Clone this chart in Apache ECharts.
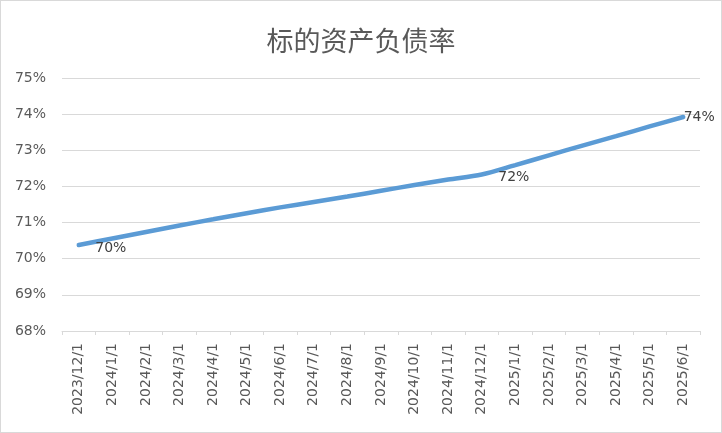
<!DOCTYPE html>
<html><head><meta charset="utf-8">
<script src="https://cdn.jsdelivr.net/npm/echarts@6/dist/echarts.min.js"></script>
<style>
html,body{margin:0;padding:0;background:#fff;}
#c{width:722px;height:433px;box-sizing:border-box;border:1px solid #d9d9d9;}
</style></head>
<body><div id="c"></div>
<script>
const categories = ['2023/12/1','2024/1/1','2024/2/1','2024/3/1','2024/4/1','2024/5/1','2024/6/1','2024/7/1','2024/8/1','2024/9/1','2024/10/1','2024/11/1','2024/12/1','2025/1/1','2025/2/1','2025/3/1','2025/4/1','2025/5/1','2025/6/1'];
const debtRatio = [70.38,70.56,70.74,70.92,71.09,71.26,71.42,71.57,71.72,71.88,72.04,72.19,72.33,72.59,72.86,73.13,73.39,73.66,73.92];
const labelledIdx = [0,12,18];
const labelOffsets = {0:[14,3], 12:[14,3], 18:[-2,0]};

const chart = echarts.init(document.getElementById('c'));
const data = debtRatio.map((v,i)=>{
  if(labelledIdx.indexOf(i)>=0){
    return {value:v,label:{show:true,offset:labelOffsets[i]}};
  }
  return v;
});
chart.setOption({
  animation:false,
  title:{text:'标的资产负债率',left:'center',top:21,
    textStyle:{fontFamily:'Noto Sans CJK SC',fontSize:27,fontWeight:'normal',color:'#595959'}},
  grid:{left:61,right:21,top:77,bottom:101,containLabel:false},
  xAxis:{type:'category',data:categories,boundaryGap:true,
    axisLine:{lineStyle:{color:'#d9d9d9',width:1}},
    axisTick:{show:true,length:4,lineStyle:{color:'#d9d9d9'}},
    axisLabel:{rotate:90,interval:0,margin:12,fontSize:14,color:'#595959',fontFamily:'DejaVu Sans'}},
  yAxis:{type:'value',min:68,max:75,interval:1,
    axisLine:{show:false},axisTick:{show:false},
    splitLine:{lineStyle:{color:'#d9d9d9',width:1}},
    axisLabel:{formatter:'{value}%',fontSize:14,color:'#595959',margin:16,fontFamily:'DejaVu Sans'}},
  series:[{type:'line',data:data,smooth:0.3,symbol:'circle',symbolSize:1,showSymbol:true,
    itemStyle:{color:'rgba(91,155,213,0)'},
    lineStyle:{color:'#5b9bd5',width:4.5,cap:'round'},
    label:{show:false,position:'right',distance:2,fontSize:14,color:'#404040',fontFamily:'DejaVu Sans',
      formatter:p=>Math.round(p.value)+'%'}}]
});
</script></body></html>
